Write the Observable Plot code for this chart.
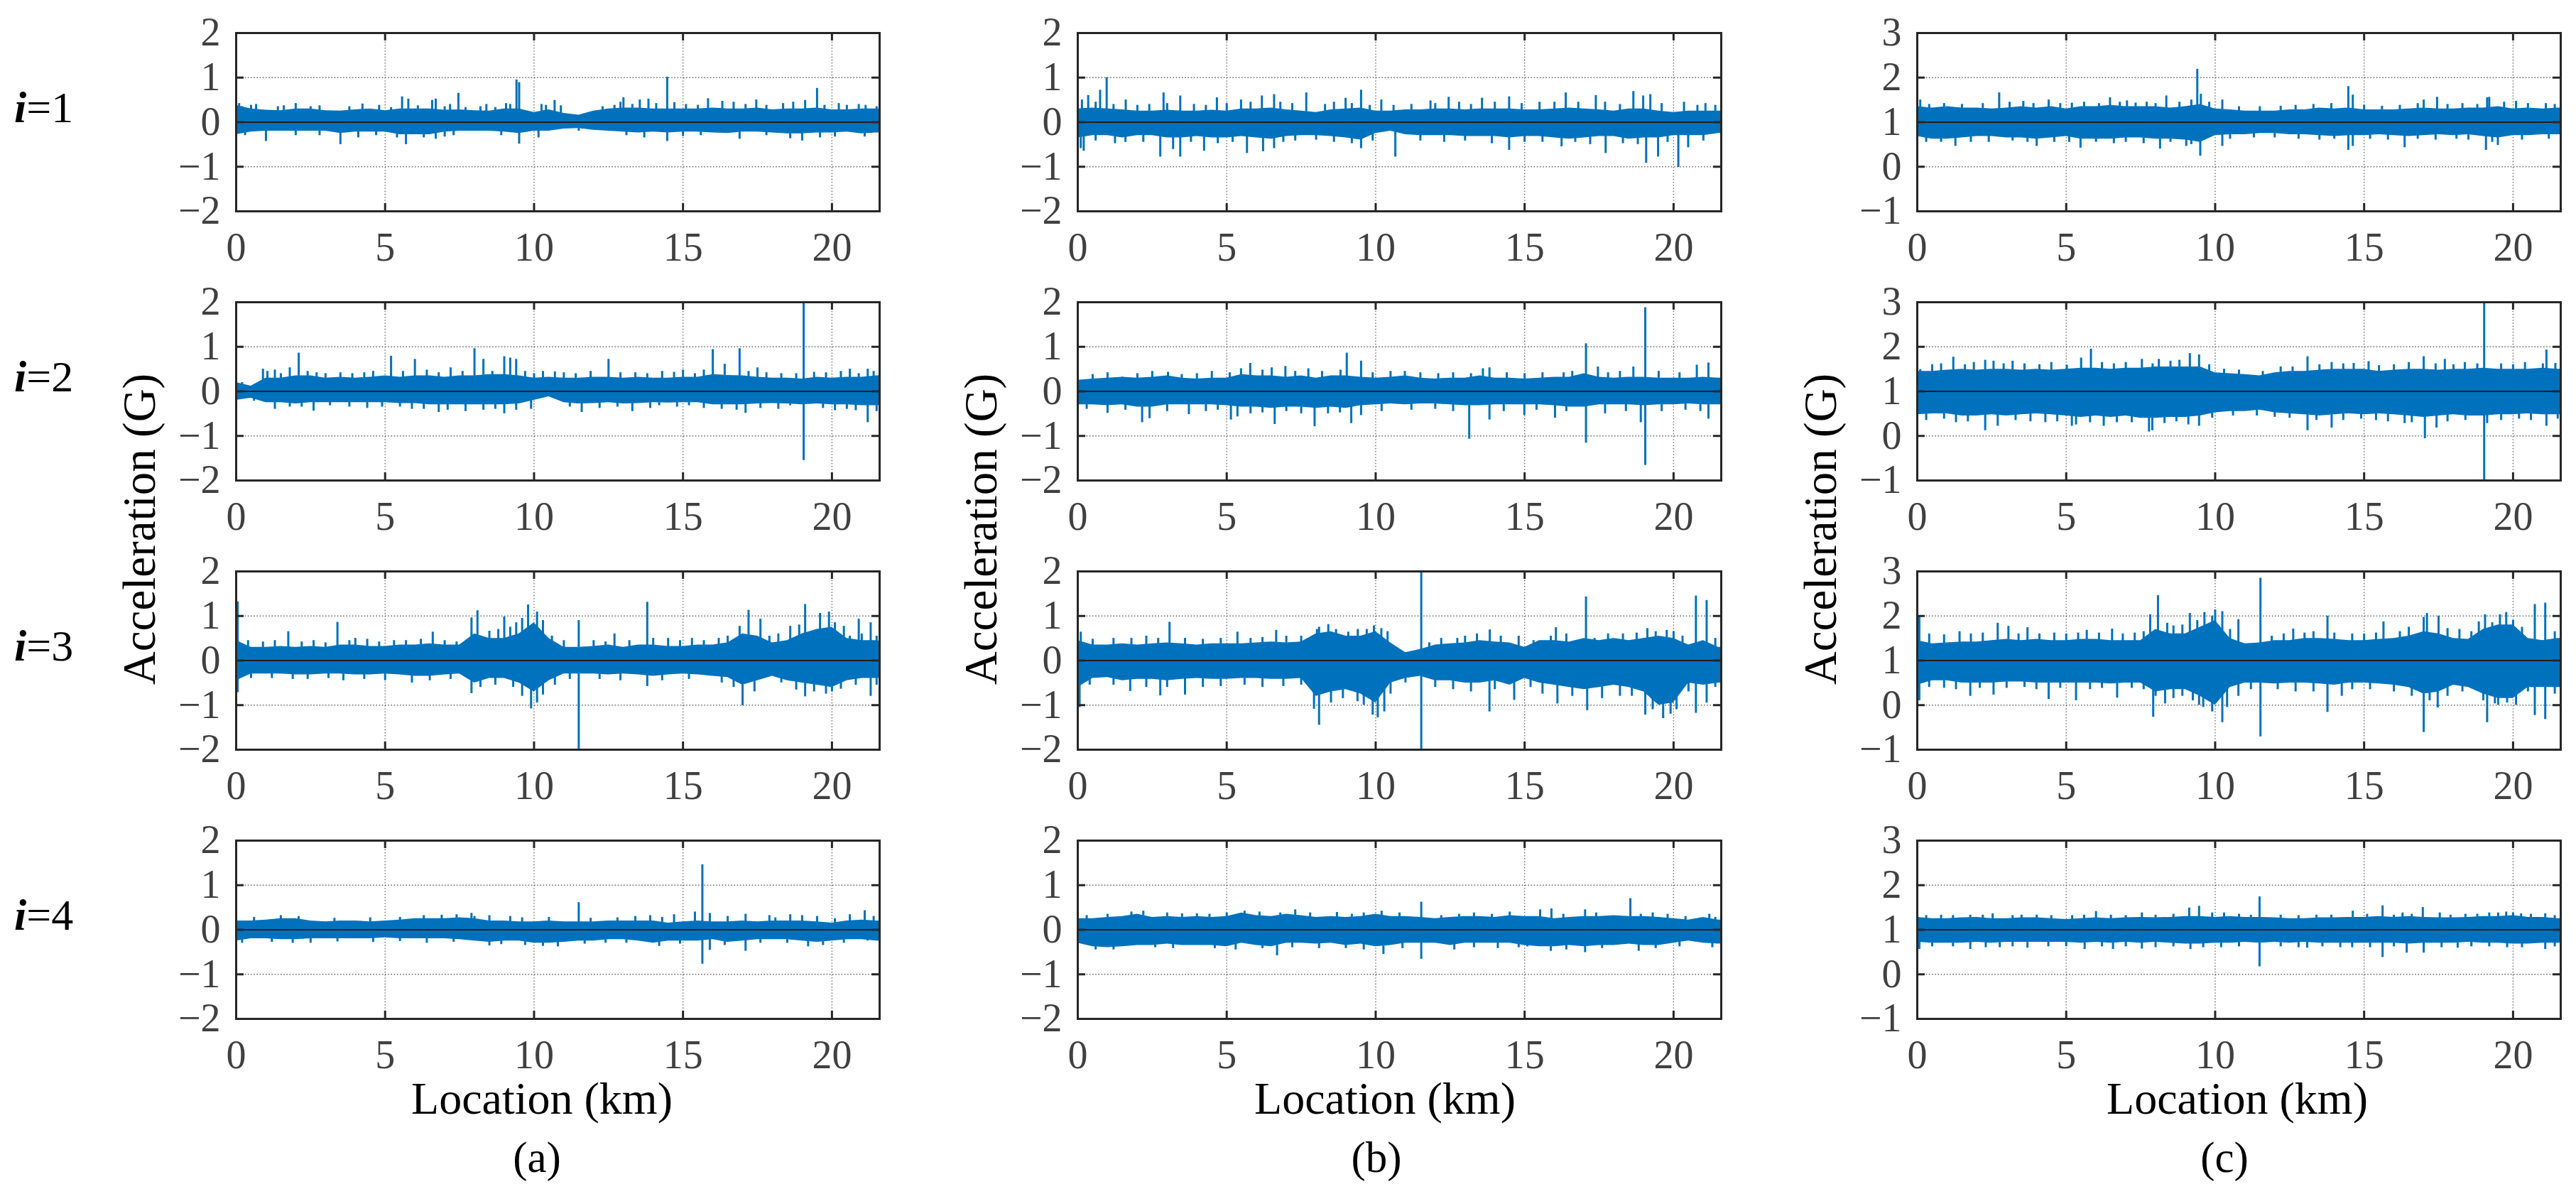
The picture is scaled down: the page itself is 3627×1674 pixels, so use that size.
<!DOCTYPE html>
<html><head><meta charset="utf-8">
<script src="https://cdn.jsdelivr.net/npm/d3@7"></script>
<script src="https://cdn.jsdelivr.net/npm/@observablehq/plot@0.6"></script>
<style>
html,body{margin:0;padding:0;background:#fff;}
#fig{position:relative;width:3627px;height:1674px;background:#fff;overflow:hidden;}
#fig svg{position:absolute;}
</style></head><body><div id="fig"></div>
<script>
// ---------------- data ----------------
// sample locations (km) of the dense-band envelope
const km = [0,0.5,1,1.5,2,2.5,3,3.5,4,4.5,5,5.5,6,6.5,7,7.5,8,8.5,9,9.5,10,10.5,11,11.5,12,12.5,13,13.5,14,14.5,15,15.5,16,16.5,17,17.5,18,18.5,19,19.5,20,20.5,21,21.5,22];
const xTicks = [0,5,10,15,20];
const yTicksAB = [-2,-1,0,1,2];
const yTicksC = [-1,0,1,2,3];
const columnNames = ["(a)","(b)","(c)"];
const rowNames = ["1","2","3","4"];
const xTitle = "Location (km)";
const yTitle = "Acceleration (G)";

// ---- column (a) ----
const a1Hi = [0.38,0.3,0.27,0.26,0.3,0.3,0.26,0.25,0.28,0.3,0.26,0.3,0.3,0.3,0.27,0.28,0.26,0.25,0.3,0.3,0.22,0.28,0.2,0.16,0.25,0.3,0.32,0.32,0.3,0.3,0.3,0.3,0.32,0.3,0.3,0.32,0.28,0.3,0.3,0.32,0.28,0.28,0.3,0.3,0.3];
const a1Lo = [-0.28,-0.22,-0.2,-0.2,-0.2,-0.2,-0.2,-0.25,-0.22,-0.22,-0.22,-0.28,-0.28,-0.28,-0.22,-0.2,-0.2,-0.2,-0.22,-0.25,-0.2,-0.2,-0.15,-0.14,-0.18,-0.2,-0.22,-0.24,-0.22,-0.24,-0.22,-0.22,-0.24,-0.25,-0.22,-0.22,-0.24,-0.26,-0.26,-0.24,-0.24,-0.22,-0.26,-0.24,-0.24];
const a1Spk = [[0.1,0.42],[0.67,0.4],[2.0,0.42],[4.24,0.41],[4.8,0.38],[5.57,0.57],[5.78,0.52],[6.58,0.49],[6.7,0.52],[7.18,0.4],[7.46,0.65],[8.4,0.4],[9.06,0.42],[9.41,0.95],[9.5,0.89],[10.25,0.4],[10.69,0.49],[12.9,0.45],[13.0,0.55],[13.55,0.5],[13.84,0.52],[14.47,1.01],[14.71,0.44],[15.84,0.53],[16.32,0.47],[17.46,0.5],[18.36,0.42],[19.1,0.49],[19.5,0.76],[20.23,0.42],[21.13,0.38],
  [1.0,-0.43],[3.5,-0.5],[4.1,-0.35],[5.7,-0.5],[6.7,-0.38],[7.0,-0.33],[9.5,-0.49],[10.15,-0.35],[13.7,-0.35],[14.47,-0.43],[16.9,-0.38],[18.6,-0.37],[19.0,-0.42],[21.1,-0.33]];
const a1Minor = [[0.2,0.35],[0.5,0.38],[1.4,0.35],[1.6,0.37],[2.5,0.35],[2.8,0.37],[3.8,0.35],[5.2,0.33],[6.1,0.37],[7.0,0.35],[7.7,0.33],[8.2,0.35],[8.7,0.33],[9.2,0.4],[10.4,0.38],[10.9,0.37],[12.3,0.35],[12.7,0.38],[13.3,0.4],[14.1,0.42],[15.1,0.4],[15.5,0.38],[16.7,0.45],[17.1,0.4],[17.8,0.38],[18.7,0.45],[19.75,0.38],[20.5,0.38],[20.9,0.4],[21.5,0.35],
  [0.3,-0.3],[2.0,-0.3],[2.8,-0.3],[4.7,-0.3],[5.4,-0.35],[6.3,-0.35],[7.3,-0.3],[8.9,-0.3],[11.5,-0.2],[13.1,-0.3],[15.0,-0.32],[15.6,-0.3],[17.8,-0.3],[19.6,-0.35],[20.1,-0.33]];

const a2Hi = [0.2,0.12,0.3,0.3,0.35,0.35,0.3,0.32,0.3,0.32,0.35,0.32,0.35,0.35,0.32,0.35,0.35,0.38,0.38,0.35,0.3,0.32,0.3,0.3,0.32,0.32,0.3,0.32,0.3,0.3,0.32,0.32,0.38,0.36,0.35,0.32,0.3,0.3,0.28,0.32,0.3,0.32,0.32,0.35,0.35];
const a2Lo = [-0.2,-0.15,-0.25,-0.25,-0.28,-0.25,-0.25,-0.25,-0.25,-0.25,-0.25,-0.27,-0.27,-0.3,-0.3,-0.3,-0.3,-0.3,-0.3,-0.28,-0.2,-0.12,-0.25,-0.28,-0.27,-0.25,-0.28,-0.27,-0.25,-0.26,-0.25,-0.25,-0.3,-0.3,-0.3,-0.28,-0.27,-0.28,-0.3,-0.28,-0.3,-0.3,-0.32,-0.32,-0.32];
const a2Spk = [[0.9,0.5],[1.05,0.45],[1.3,0.48],[1.8,0.53],[2.1,0.86],[2.4,0.45],[5.2,0.79],[6.0,0.72],[7.2,0.53],[8.0,0.96],[8.3,0.72],[9.0,0.78],[9.2,0.75],[9.4,0.72],[10.3,0.45],[10.7,0.44],[12.5,0.72],[15.0,0.48],[16.0,0.94],[16.4,0.61],[16.9,0.96],[17.5,0.53],[19.05,2.0],[19.4,0.43],[20.6,0.5],[21.2,0.5],
  [1.3,-0.4],[2.6,-0.44],[3.15,-0.32],[5.5,-0.35],[6.3,-0.4],[6.8,-0.47],[7.7,-0.45],[9.0,-0.5],[9.9,-0.4],[11.6,-0.47],[13.3,-0.45],[14.2,-0.32],[15.2,-0.32],[17.1,-0.49],[18.6,-0.32],[19.05,-1.55],[20.1,-0.43],[20.8,-0.43],[21.2,-0.7]];
const a2Minor = [[0.2,0.2],[1.5,0.4],[2.7,0.42],[3.0,0.4],[3.5,0.42],[3.9,0.4],[4.3,0.42],[4.6,0.45],[5.6,0.45],[6.4,0.48],[6.8,0.42],[7.6,0.45],[8.6,0.45],[9.7,0.45],[10.0,0.4],[11.0,0.42],[11.4,0.4],[11.9,0.45],[12.9,0.42],[13.4,0.42],[13.8,0.4],[14.3,0.45],[14.7,0.43],[15.4,0.4],[15.7,0.48],[17.2,0.45],[17.8,0.42],[18.3,0.4],[18.8,0.4],[19.8,0.42],[20.3,0.45],[20.9,0.4],[21.4,0.45],
  [0.6,-0.22],[1.8,-0.35],[2.2,-0.35],[3.8,-0.35],[4.4,-0.38],[4.9,-0.35],[5.9,-0.4],[7.1,-0.42],[8.3,-0.42],[8.7,-0.4],[9.4,-0.42],[11.2,-0.35],[12.2,-0.38],[12.8,-0.35],[13.9,-0.38],[14.8,-0.35],[15.7,-0.38],[16.3,-0.4],[16.8,-0.42],[17.6,-0.38],[18.2,-0.4],[19.7,-0.38],[20.5,-0.4],[21.5,-0.45]];

const a3Hi = [0.45,0.3,0.3,0.32,0.3,0.32,0.3,0.35,0.35,0.32,0.32,0.35,0.35,0.38,0.35,0.35,0.6,0.5,0.5,0.6,0.85,0.5,0.3,0.3,0.32,0.35,0.3,0.35,0.35,0.32,0.32,0.35,0.35,0.4,0.6,0.55,0.4,0.45,0.6,0.7,0.75,0.5,0.45,0.45,0.4];
const a3Lo = [-0.45,-0.3,-0.3,-0.3,-0.32,-0.32,-0.3,-0.3,-0.32,-0.32,-0.3,-0.32,-0.35,-0.35,-0.32,-0.3,-0.5,-0.4,-0.4,-0.5,-0.7,-0.45,-0.3,-0.3,-0.3,-0.32,-0.3,-0.32,-0.35,-0.32,-0.3,-0.32,-0.35,-0.38,-0.55,-0.45,-0.35,-0.45,-0.5,-0.55,-0.6,-0.45,-0.4,-0.4,-0.38];
const a3Spk = [[0.05,1.32],[1.75,0.65],[3.4,0.86],[4.0,0.5],[6.6,0.64],[7.9,0.96],[8.1,1.12],[8.5,0.66],[9.0,0.98],[9.4,0.85],[9.8,1.25],[10.1,1.09],[10.3,0.9],[11.5,0.9],[12.7,0.6],[13.8,1.31],[14.5,0.5],[16.9,0.77],[17.2,1.13],[17.6,0.93],[18.6,0.77],[19.1,1.26],[19.6,1.06],[19.9,1.09],[20.4,0.77],[20.9,0.93],[21.3,0.85],
  [0.05,-0.72],[7.9,-0.74],[9.9,-1.08],[10.3,-0.77],[11.5,-2.0],[13.8,-0.58],[17.0,-1.01],[18.8,-0.66],[19.1,-0.81],[19.6,-0.53],[20.3,-0.64],[21.3,-0.8]];
const a3Minor = [[0.4,0.45],[0.9,0.42],[1.3,0.45],[2.2,0.42],[2.6,0.45],[3.0,0.4],[3.8,0.45],[4.4,0.48],[4.8,0.42],[5.3,0.45],[5.7,0.45],[6.2,0.48],[7.0,0.45],[7.4,0.42],[8.8,0.7],[9.2,0.75],[9.6,0.95],[10.6,0.55],[11.0,0.45],[12.0,0.45],[12.4,0.42],[13.2,0.45],[14.0,0.5],[14.9,0.45],[15.3,0.5],[15.7,0.45],[16.2,0.5],[16.5,0.55],[17.9,0.55],[18.2,0.6],[18.9,0.8],[20.1,0.85],[20.6,0.55],[21.0,0.6],[21.5,0.55],
  [0.5,-0.4],[1.2,-0.4],[1.9,-0.42],[2.4,-0.42],[3.1,-0.4],[3.6,-0.45],[4.3,-0.42],[5.0,-0.45],[5.9,-0.5],[6.5,-0.45],[7.2,-0.42],[8.2,-0.6],[8.7,-0.55],[9.3,-0.6],[9.6,-0.8],[10.1,-0.95],[10.7,-0.55],[11.2,-0.42],[12.2,-0.42],[12.9,-0.45],[14.3,-0.45],[15.2,-0.42],[16.3,-0.5],[16.7,-0.6],[17.4,-0.7],[18.3,-0.5],[19.4,-0.7],[19.8,-0.75],[20.0,-0.7],[20.8,-0.55],[21.5,-0.55]];

const a4Hi = [0.2,0.2,0.22,0.25,0.25,0.2,0.18,0.2,0.2,0.18,0.2,0.22,0.25,0.25,0.25,0.27,0.25,0.2,0.2,0.18,0.18,0.2,0.18,0.18,0.18,0.2,0.2,0.2,0.2,0.15,0.18,0.2,0.18,0.18,0.2,0.18,0.2,0.2,0.2,0.18,0.15,0.2,0.22,0.2,0.2];
const a4Lo = [-0.25,-0.2,-0.2,-0.22,-0.22,-0.2,-0.2,-0.2,-0.2,-0.2,-0.18,-0.2,-0.2,-0.2,-0.2,-0.22,-0.25,-0.28,-0.25,-0.25,-0.3,-0.3,-0.28,-0.25,-0.25,-0.22,-0.22,-0.25,-0.3,-0.25,-0.25,-0.25,-0.22,-0.28,-0.25,-0.22,-0.22,-0.22,-0.25,-0.28,-0.25,-0.22,-0.22,-0.25,-0.25];
const a4Spk = [[7.9,0.37],[8.5,0.32],[9.2,0.3],[11.5,0.61],[13.9,0.32],[14.7,0.34],[15.4,0.4],[15.65,1.46],[15.9,0.37],[17.1,0.35],[17.9,0.32],[18.6,0.34],[19.0,0.32],[20.6,0.34],[21.1,0.43],
  [1.9,-0.3],[8.5,-0.36],[10.3,-0.37],[14.2,-0.37],[15.65,-0.77],[15.9,-0.46],[17.1,-0.48],[19.2,-0.38],[21.2,-0.25]];
const a4Minor = [[0.6,0.28],[1.5,0.32],[2.1,0.3],[3.3,0.26],[4.5,0.27],[5.5,0.28],[6.3,0.32],[6.9,0.33],[7.4,0.34],[8.0,0.3],[9.6,0.27],[10.5,0.28],[11.9,0.26],[12.8,0.27],[13.4,0.3],[14.3,0.28],[16.5,0.3],[18.1,0.27],[19.5,0.3],[20.1,0.25],[21.4,0.3],
  [0.2,-0.3],[1.2,-0.28],[2.5,-0.3],[3.4,-0.27],[4.6,-0.28],[5.5,-0.26],[6.4,-0.3],[7.3,-0.28],[8.9,-0.33],[9.7,-0.35],[10.8,-0.38],[11.7,-0.32],[12.4,-0.3],[13.1,-0.3],[14.9,-0.32],[16.4,-0.35],[17.6,-0.3],[18.5,-0.3],[19.7,-0.35],[20.4,-0.3]];

// ---- column (b) ----
const b1Hi = [0.3,0.32,0.3,0.28,0.25,0.25,0.27,0.25,0.25,0.27,0.25,0.3,0.3,0.32,0.28,0.25,0.22,0.28,0.3,0.32,0.25,0.25,0.28,0.28,0.3,0.3,0.28,0.3,0.3,0.3,0.28,0.28,0.3,0.32,0.3,0.28,0.25,0.3,0.3,0.25,0.22,0.25,0.25,0.25,0.25];
const b1Lo = [-0.35,-0.3,-0.3,-0.35,-0.3,-0.3,-0.35,-0.35,-0.32,-0.35,-0.35,-0.32,-0.35,-0.38,-0.32,-0.3,-0.3,-0.32,-0.35,-0.4,-0.25,-0.2,-0.28,-0.3,-0.3,-0.3,-0.32,-0.32,-0.32,-0.35,-0.32,-0.32,-0.35,-0.38,-0.35,-0.32,-0.32,-0.38,-0.35,-0.35,-0.3,-0.3,-0.3,-0.25,-0.25];
const b1Spk = [[0.14,0.5],[0.35,0.6],[0.75,0.72],[0.97,1.0],[1.61,0.5],[2.88,0.66],[3.44,0.59],[4.67,0.55],[5.48,0.5],[6.18,0.59],[6.59,0.62],[7.67,0.66],[8.99,0.54],[9.51,0.72],[10.19,0.5],[11.84,0.48],[12.45,0.56],[13.57,0.54],[14.48,0.57],[16.38,0.66],[17.39,0.6],[18.65,0.69],[18.98,0.59],[19.22,0.62],[20.35,0.45],[21.07,0.42],
  [0.1,-0.59],[0.2,-0.65],[1.25,-0.48],[2.77,-0.78],[3.2,-0.61],[3.44,-0.78],[4.24,-0.65],[5.68,-0.7],[6.22,-0.66],[6.59,-0.59],[9.51,-0.59],[10.66,-0.78],[14.48,-0.63],[16.24,-0.55],[17.72,-0.7],[19.08,-0.92],[19.48,-0.78],[20.16,-1.01],[20.49,-0.57]];
const b1Minor = [[0.6,0.45],[1.2,0.4],[2.0,0.38],[2.4,0.4],[3.0,0.42],[3.9,0.4],[4.3,0.38],[5.0,0.42],[5.8,0.45],[6.8,0.45],[7.2,0.42],[8.3,0.4],[8.6,0.45],[9.2,0.42],[9.8,0.38],[10.6,0.38],[11.2,0.4],[12.0,0.42],[12.8,0.45],[13.2,0.4],[14.0,0.45],[14.9,0.42],[15.5,0.45],[16.0,0.45],[16.8,0.45],[17.7,0.45],[18.2,0.4],[19.6,0.42],[20.8,0.38],[21.4,0.38],
  [0.6,-0.42],[1.6,-0.45],[2.2,-0.45],[3.8,-0.45],[4.7,-0.48],[5.2,-0.45],[6.9,-0.45],[7.3,-0.42],[8.0,-0.4],[8.6,-0.45],[9.2,-0.48],[9.9,-0.42],[11.5,-0.42],[12.3,-0.45],[13.0,-0.42],[13.9,-0.48],[15.0,-0.45],[15.6,-0.45],[16.7,-0.45],[17.2,-0.5],[18.3,-0.48],[18.8,-0.5],[19.8,-0.45],[21.0,-0.42]];

const b2Hi = [0.25,0.28,0.3,0.32,0.3,0.32,0.35,0.3,0.28,0.3,0.3,0.38,0.35,0.35,0.32,0.35,0.3,0.35,0.35,0.32,0.3,0.32,0.35,0.3,0.28,0.3,0.3,0.35,0.3,0.3,0.28,0.3,0.32,0.32,0.4,0.32,0.3,0.32,0.32,0.3,0.3,0.3,0.32,0.3,0.3];
const b2Lo = [-0.3,-0.3,-0.32,-0.3,-0.35,-0.35,-0.3,-0.3,-0.3,-0.3,-0.32,-0.35,-0.35,-0.38,-0.35,-0.35,-0.38,-0.35,-0.38,-0.32,-0.3,-0.28,-0.3,-0.28,-0.28,-0.3,-0.32,-0.32,-0.3,-0.3,-0.3,-0.3,-0.32,-0.35,-0.35,-0.3,-0.3,-0.3,-0.32,-0.3,-0.3,-0.28,-0.3,-0.3,-0.3];
const b2Spk = [[1.5,0.32],[3.03,0.43],[3.49,0.38],[5.48,0.51],[5.79,0.63],[6.51,0.53],[6.97,0.56],[7.74,0.51],[8.82,0.48],[9.03,0.86],[9.51,0.68],[10.98,0.45],[13.6,0.51],[13.82,0.53],[16.31,0.42],[17.06,1.07],[17.46,0.55],[18.65,0.55],[19.05,1.88],[20.78,0.59],[21.17,0.64],
  [1.0,-0.49],[2.16,-0.7],[2.41,-0.61],[3.73,-0.52],[5.14,-0.64],[5.36,-0.57],[6.61,-0.74],[7.95,-0.79],[9.18,-0.72],[9.51,-0.54],[13.14,-1.07],[13.82,-0.64],[14.99,-0.54],[16.02,-0.6],[17.06,-1.16],[18.9,-0.7],[19.05,-1.66],[21.17,-0.62]];
const b2Minor = [[0.5,0.38],[1.0,0.42],[2.0,0.4],[2.5,0.45],[4.0,0.4],[4.5,0.45],[5.1,0.42],[6.2,0.48],[7.3,0.45],[8.2,0.45],[9.9,0.42],[10.5,0.45],[11.5,0.42],[12.1,0.4],[12.6,0.42],[13.2,0.4],[14.4,0.42],[15.0,0.4],[15.6,0.42],[16.6,0.45],[17.8,0.42],[18.2,0.45],[19.5,0.45],[20.2,0.42],
  [0.3,-0.4],[1.6,-0.42],[3.0,-0.45],[4.3,-0.45],[4.7,-0.42],[5.8,-0.5],[6.2,-0.48],[7.0,-0.45],[7.5,-0.5],[8.4,-0.5],[8.8,-0.48],[10.2,-0.45],[11.2,-0.42],[12.0,-0.4],[12.6,-0.45],[14.3,-0.45],[15.4,-0.42],[16.4,-0.45],[17.7,-0.5],[18.4,-0.45],[19.6,-0.45],[20.4,-0.42],[20.9,-0.45]];

const b3Hi = [0.45,0.35,0.35,0.38,0.35,0.38,0.4,0.38,0.35,0.38,0.38,0.38,0.4,0.42,0.4,0.42,0.6,0.65,0.55,0.55,0.65,0.4,0.18,0.25,0.35,0.38,0.4,0.45,0.42,0.4,0.3,0.45,0.45,0.42,0.5,0.45,0.5,0.45,0.5,0.55,0.5,0.35,0.45,0.3,0.3];
const b3Lo = [-0.6,-0.4,-0.38,-0.45,-0.42,-0.42,-0.45,-0.42,-0.4,-0.42,-0.42,-0.4,-0.4,-0.42,-0.42,-0.4,-0.8,-0.7,-0.65,-0.75,-0.95,-0.5,-0.4,-0.35,-0.45,-0.45,-0.5,-0.5,-0.45,-0.55,-0.4,-0.5,-0.55,-0.6,-0.65,-0.6,-0.55,-0.6,-0.7,-1.0,-0.95,-0.5,-0.55,-0.5,-0.5];
const b3Spk = [[0.1,0.64],[3.08,0.86],[5.36,0.64],[6.66,0.68],[8.03,0.7],[8.41,0.81],[8.67,0.7],[9.08,0.64],[9.94,0.78],[10.19,0.72],[11.53,2.0],[12.74,0.5],[13.83,0.69],[15.88,0.55],[16.05,0.74],[17.06,1.43],[17.35,0.5],[18.76,0.62],[19.12,0.72],[19.77,0.68],[20.75,1.45],[21.11,1.35],
  [0.06,-1.05],[1.76,-0.69],[2.77,-0.79],[3.6,-0.77],[7.93,-1.09],[8.1,-1.45],[9.39,-0.92],[9.9,-1.22],[10.07,-1.28],[10.29,-1.15],[11.53,-2.0],[13.82,-1.15],[14.65,-0.89],[16.1,-0.97],[17.1,-1.12],[19.05,-1.22],[19.65,-1.3],[20.75,-1.18],[21.11,-0.95]];
const b3Minor = [[0.5,0.48],[1.2,0.5],[1.8,0.5],[2.3,0.55],[2.7,0.5],[3.6,0.5],[4.2,0.48],[4.8,0.5],[5.8,0.5],[6.2,0.52],[7.0,0.55],[7.5,0.55],[8.1,0.75],[9.4,0.7],[9.7,0.7],[10.4,0.65],[11.8,0.4],[12.2,0.5],[13.0,0.55],[13.4,0.6],[14.2,0.55],[14.8,0.55],[15.3,0.45],[16.4,0.6],[17.8,0.6],[18.3,0.6],[19.4,0.65],[20.0,0.65],[20.3,0.55],[21.4,0.5],
  [0.4,-0.55],[1.2,-0.55],[2.3,-0.6],[3.0,-0.6],[4.2,-0.6],[4.8,-0.58],[5.6,-0.55],[6.2,-0.6],[6.9,-0.58],[7.5,-0.55],[8.5,-0.95],[8.9,-0.85],[9.6,-1.0],[10.5,-0.75],[11.0,-0.5],[12.0,-0.6],[12.6,-0.65],[13.2,-0.7],[14.0,-0.65],[15.2,-0.6],[15.6,-0.75],[16.6,-0.8],[17.6,-0.85],[18.2,-0.8],[18.6,-0.8],[19.3,-1.1],[19.9,-1.2],[20.1,-1.1],[20.5,-0.7],[21.4,-0.6]];

const b4Hi = [0.25,0.25,0.28,0.3,0.35,0.28,0.3,0.28,0.3,0.28,0.3,0.38,0.32,0.3,0.35,0.32,0.28,0.3,0.28,0.3,0.35,0.3,0.3,0.28,0.25,0.28,0.3,0.3,0.28,0.32,0.3,0.3,0.25,0.28,0.3,0.3,0.32,0.3,0.3,0.28,0.25,0.22,0.28,0.22,0.22];
const b4Lo = [-0.3,-0.38,-0.4,-0.38,-0.35,-0.35,-0.32,-0.35,-0.35,-0.35,-0.38,-0.3,-0.35,-0.38,-0.3,-0.3,-0.32,-0.3,-0.35,-0.32,-0.38,-0.35,-0.3,-0.3,-0.3,-0.35,-0.3,-0.3,-0.3,-0.3,-0.35,-0.38,-0.38,-0.35,-0.38,-0.35,-0.35,-0.32,-0.35,-0.35,-0.3,-0.25,-0.3,-0.32,-0.3];
const b4Spk = [[4.42,0.35],[8.7,0.39],[11.53,0.62],[15.52,0.45],[15.9,0.47],[17.03,0.45],[18.55,0.7],[18.9,0.35],[21.2,0.35],
  [6.69,-0.58],[10.26,-0.55],[11.53,-0.66],[12.64,-0.45],[15.09,-0.38],[15.88,-0.48],[17.03,-0.51],[18.83,-0.48]];
const b4Minor = [[0.3,0.32],[1.0,0.35],[1.8,0.4],[2.2,0.42],[3.0,0.38],[3.5,0.36],[4.0,0.36],[5.0,0.38],[5.6,0.42],[6.1,0.4],[6.8,0.38],[7.3,0.45],[7.8,0.38],[9.2,0.35],[9.6,0.38],[10.2,0.42],[10.8,0.38],[12.2,0.32],[12.8,0.35],[13.3,0.38],[13.9,0.35],[14.5,0.4],[16.3,0.35],[17.4,0.38],[19.3,0.38],[19.8,0.35],[20.4,0.3],[21.4,0.28],
  [0.6,-0.45],[1.2,-0.45],[2.6,-0.4],[3.2,-0.42],[4.6,-0.42],[5.3,-0.45],[6.2,-0.42],[7.2,-0.4],[8.1,-0.42],[9.0,-0.42],[9.6,-0.45],[10.9,-0.42],[13.3,-0.4],[14.1,-0.42],[14.8,-0.4],[16.4,-0.45],[17.6,-0.42],[19.4,-0.42],[20.2,-0.38],[21.3,-0.4]];

// ---- column (c) ----
const c1Hi = [1.35,1.32,1.35,1.32,1.32,1.3,1.32,1.35,1.32,1.35,1.3,1.35,1.35,1.38,1.35,1.35,1.35,1.32,1.35,1.4,1.3,1.28,1.25,1.25,1.25,1.28,1.28,1.32,1.3,1.32,1.28,1.28,1.28,1.3,1.32,1.3,1.3,1.32,1.32,1.35,1.3,1.32,1.3,1.32,1.32];
const c1Lo = [0.68,0.62,0.62,0.65,0.68,0.68,0.65,0.65,0.62,0.65,0.68,0.62,0.62,0.62,0.65,0.65,0.62,0.62,0.6,0.55,0.7,0.72,0.72,0.75,0.75,0.72,0.72,0.7,0.68,0.7,0.7,0.72,0.7,0.68,0.7,0.72,0.7,0.72,0.68,0.65,0.7,0.7,0.72,0.72,0.72];
const c1Spk = [[0.1,1.5],[2.75,1.66],[3.56,1.47],[4.41,1.5],[5.19,1.43],[6.47,1.55],[7.04,1.48],[7.33,1.43],[8.36,1.59],[9.2,1.5],[9.4,2.19],[9.52,1.63],[10.24,1.5],[14.47,1.8],[14.62,1.61],[17.0,1.5],[17.45,1.56],[19.13,1.55],[19.2,1.56],[20.1,1.47],[21.1,1.42],
  [1.28,0.46],[4.01,0.46],[5.48,0.42],[8.15,0.4],[9.03,0.46],[9.5,0.24],[10.24,0.46],[14.47,0.37],[14.62,0.46],[16.36,0.43],[19.09,0.37],[19.49,0.48]];
const c1Minor = [[0.4,1.4],[0.9,1.42],[1.5,1.4],[2.2,1.42],[3.1,1.45],[3.9,1.42],[4.8,1.42],[5.6,1.45],[6.1,1.42],[6.8,1.45],[7.7,1.45],[8.0,1.42],[8.8,1.45],[9.8,1.45],[10.8,1.35],[11.5,1.35],[12.2,1.36],[12.7,1.38],[13.3,1.4],[13.9,1.42],[15.0,1.38],[15.6,1.36],[16.2,1.38],[16.8,1.42],[17.8,1.4],[18.3,1.42],[18.8,1.4],[19.7,1.45],[20.5,1.42],[21.4,1.4],
  [0.3,0.55],[0.8,0.55],[1.8,0.55],[2.4,0.55],[3.2,0.58],[3.7,0.55],[4.6,0.55],[5.1,0.55],[6.0,0.55],[6.6,0.52],[7.0,0.55],[7.6,0.52],[8.5,0.55],[9.2,0.5],[10.5,0.62],[11.3,0.65],[12.0,0.65],[12.8,0.62],[13.5,0.6],[14.0,0.62],[15.2,0.62],[15.8,0.6],[16.8,0.62],[17.4,0.6],[18.1,0.62],[18.5,0.6],[19.3,0.55],[20.3,0.6],[21.2,0.62]];

const c2Hi = [1.45,1.45,1.48,1.5,1.48,1.5,1.5,1.48,1.5,1.48,1.5,1.52,1.52,1.5,1.52,1.52,1.55,1.55,1.55,1.55,1.42,1.4,1.38,1.35,1.42,1.45,1.45,1.48,1.5,1.5,1.5,1.45,1.48,1.5,1.5,1.48,1.5,1.5,1.52,1.5,1.5,1.5,1.52,1.5,1.5];
const c2Lo = [0.48,0.5,0.5,0.45,0.45,0.48,0.45,0.48,0.5,0.48,0.45,0.42,0.45,0.42,0.45,0.4,0.4,0.42,0.42,0.45,0.52,0.55,0.55,0.58,0.52,0.5,0.48,0.45,0.48,0.5,0.48,0.5,0.48,0.45,0.42,0.45,0.48,0.45,0.45,0.48,0.48,0.5,0.48,0.48,0.48];
const c2Spk = [[0.1,1.49],[1.21,1.77],[2.28,1.7],[2.56,1.68],[3.2,1.68],[5.02,1.59],[5.5,1.75],[5.83,1.95],[7.54,1.72],[8.11,1.72],[9.15,1.85],[9.46,1.82],[13.1,1.78],[13.91,1.65],[14.65,1.63],[15.15,1.67],[17.0,1.78],[17.71,1.72],[18.38,1.65],[19.03,3.0],[21.12,1.93],[21.42,1.63],
  [2.28,0.12],[2.7,0.22],[5.19,0.22],[5.33,0.25],[6.26,0.22],[7.78,0.09],[7.89,0.12],[9.1,0.25],[9.46,0.22],[13.1,0.12],[13.91,0.18],[16.36,0.28],[17.04,-0.06],[17.43,0.18],[19.03,-1.0],[19.13,0.28],[21.12,0.22]];
const c2Minor = [[0.5,1.6],[0.8,1.62],[1.6,1.6],[1.9,1.65],[2.9,1.62],[3.6,1.62],[4.1,1.6],[4.5,1.65],[6.2,1.65],[6.6,1.62],[7.0,1.65],[7.9,1.62],[8.5,1.68],[8.8,1.7],[9.8,1.6],[10.3,1.5],[10.8,1.48],[11.6,1.45],[12.2,1.55],[12.6,1.55],[13.5,1.6],[14.3,1.62],[15.5,1.58],[16.0,1.6],[16.5,1.65],[17.4,1.62],[18.0,1.6],[18.8,1.62],[19.6,1.62],[20.0,1.6],[20.4,1.65],[21.0,1.62],
  [0.3,0.35],[0.9,0.38],[1.3,0.3],[1.7,0.32],[3.3,0.35],[3.8,0.32],[4.3,0.3],[4.7,0.32],[5.8,0.3],[6.7,0.3],[7.2,0.3],[8.3,0.28],[8.7,0.32],[9.9,0.4],[10.6,0.45],[11.4,0.45],[12.0,0.42],[12.5,0.4],[13.4,0.35],[14.3,0.35],[14.9,0.38],[15.4,0.35],[15.8,0.32],[16.6,0.3],[17.8,0.32],[18.4,0.35],[19.6,0.35],[20.2,0.38],[20.6,0.35],[21.5,0.38]];

const c3Hi = [1.45,1.38,1.4,1.42,1.42,1.45,1.48,1.45,1.48,1.45,1.45,1.48,1.48,1.45,1.45,1.45,1.7,1.6,1.6,1.75,1.9,1.5,1.38,1.4,1.45,1.45,1.5,1.5,1.48,1.45,1.45,1.48,1.5,1.55,1.65,1.6,1.5,1.48,1.7,1.8,1.8,1.5,1.45,1.5,1.5];
const c3Lo = [0.45,0.55,0.55,0.5,0.5,0.5,0.52,0.52,0.5,0.5,0.5,0.5,0.5,0.48,0.5,0.5,0.3,0.35,0.35,0.2,0.0,0.4,0.5,0.5,0.48,0.5,0.5,0.48,0.45,0.5,0.5,0.48,0.45,0.4,0.25,0.3,0.45,0.4,0.25,0.15,0.15,0.4,0.4,0.4,0.4];
const c3Spk = [[0.07,2.0],[1.42,1.65],[2.7,1.84],[3.06,1.77],[3.7,1.74],[5.69,1.68],[6.54,1.71],[7.82,2.03],[8.08,2.46],[8.39,1.84],[9.15,2.06],[9.64,2.08],[10.0,2.14],[10.24,2.1],[10.78,1.92],[11.52,2.85],[12.62,1.71],[13.77,2.0],[15.65,1.87],[17.0,1.97],[17.11,2.06],[17.5,2.0],[18.85,1.87],[19.06,2.03],[19.56,2.03],[19.77,2.08],[20.73,2.26],[21.08,2.29],
  [0.07,0.1],[1.78,0.2],[2.56,0.23],[4.41,0.13],[5.33,0.1],[6.71,0.16],[7.92,-0.27],[8.32,0.03],[9.25,0.1],[9.46,0.0],[10.24,-0.39],[10.78,0.2],[11.52,-0.71],[13.77,-0.16],[14.25,0.2],[17.0,-0.61],[17.47,-0.06],[19.13,-0.39],[19.39,0.03],[20.73,-0.23],[21.08,-0.32]];
const c3Minor = [[0.4,1.6],[0.9,1.58],[1.8,1.6],[2.2,1.62],[3.4,1.6],[4.1,1.6],[4.6,1.62],[5.0,1.6],[5.4,1.62],[6.1,1.62],[6.9,1.6],[7.3,1.62],[7.6,1.65],[8.6,1.78],[8.9,1.8],[9.4,1.9],[9.9,2.0],[10.5,1.7],[11.9,1.55],[12.3,1.6],[13.0,1.62],[13.3,1.65],[14.0,1.62],[14.6,1.6],[15.0,1.6],[15.4,1.62],[16.2,1.65],[16.5,1.75],[17.8,1.72],[18.2,1.7],[18.6,1.65],[19.3,1.85],[20.0,1.9],[20.3,1.75],[21.4,1.65],
  [0.4,0.4],[0.9,0.38],[1.3,0.35],[2.1,0.38],[3.0,0.38],[3.6,0.4],[4.0,0.35],[4.8,0.38],[5.8,0.35],[6.2,0.38],[7.2,0.38],[7.6,0.35],[8.0,0.2],[8.6,0.15],[8.9,0.2],[9.6,-0.05],[9.9,-0.15],[10.4,-0.05],[11.2,0.35],[12.1,0.35],[12.7,0.3],[13.3,0.3],[14.6,0.35],[15.2,0.35],[16.0,0.3],[16.6,0.2],[17.2,0.1],[17.8,0.2],[18.3,0.3],[19.0,0.1],[19.5,0.0],[19.8,0.05],[20.1,0.0],[20.5,0.3],[21.4,0.25]];

const c4Hi = [1.28,1.25,1.25,1.27,1.28,1.25,1.25,1.27,1.27,1.25,1.23,1.25,1.27,1.25,1.27,1.28,1.27,1.28,1.3,1.3,1.28,1.3,1.28,1.28,1.27,1.25,1.25,1.27,1.27,1.28,1.28,1.3,1.28,1.3,1.28,1.27,1.27,1.28,1.3,1.3,1.32,1.28,1.28,1.25,1.25];
const c4Lo = [0.72,0.7,0.7,0.7,0.72,0.7,0.72,0.72,0.72,0.72,0.72,0.7,0.72,0.7,0.72,0.7,0.72,0.7,0.68,0.68,0.7,0.7,0.72,0.7,0.72,0.7,0.72,0.7,0.7,0.7,0.7,0.7,0.7,0.68,0.7,0.7,0.7,0.72,0.7,0.7,0.68,0.68,0.7,0.7,0.7];
const c4Spk = [[1.78,1.33],[2.53,1.36],[4.01,1.33],[6.0,1.41],[7.54,1.38],[9.13,1.49],[9.46,1.53],[11.49,1.74],[14.62,1.42],[15.62,1.54],[16.29,1.38],[16.97,1.5],[17.54,1.38],[19.2,1.38],[19.77,1.4],[20.27,1.36],[21.08,1.36],
  [0.07,0.56],[1.78,0.56],[2.77,0.6],[3.7,0.59],[5.62,0.56],[6.57,0.56],[7.54,0.57],[9.17,0.56],[11.49,0.17],[13.09,0.59],[15.62,0.38],[16.43,0.48],[17.0,0.48],[18.14,0.59],[21.08,0.56]];
const c4Minor = [[0.3,1.32],[0.8,1.33],[1.2,1.32],[2.2,1.33],[3.2,1.32],[3.5,1.33],[4.5,1.32],[5.2,1.32],[5.6,1.33],[6.5,1.33],[7.0,1.32],[8.0,1.33],[8.6,1.35],[9.9,1.38],[10.3,1.38],[10.8,1.35],[11.2,1.33],[12.2,1.33],[12.8,1.32],[13.4,1.33],[13.9,1.33],[15.1,1.35],[16.0,1.33],[16.6,1.35],[17.9,1.33],[18.4,1.35],[18.8,1.35],[19.5,1.38],[20.0,1.38],[20.6,1.35],[21.4,1.32],
  [0.5,0.62],[1.2,0.62],[2.3,0.6],[3.2,0.62],[4.4,0.62],[5.0,0.62],[6.2,0.62],[7.0,0.62],[8.0,0.6],[8.6,0.62],[9.6,0.6],[10.2,0.6],[10.8,0.62],[12.2,0.62],[12.8,0.6],[13.6,0.62],[14.2,0.6],[14.6,0.6],[15.2,0.6],[16.0,0.62],[17.6,0.6],[18.6,0.62],[19.2,0.62],[19.8,0.6],[20.3,0.6],[21.4,0.62]];

// ---------------- layout ----------------
const BLUE = "#0072BD", AX = "#262626", TXT = "#404040";
const FONT = "'Liberation Serif','Times New Roman',serif";
const colLeft = [332, 1517, 2699];
const rowTop = [46, 425, 804, 1183];
const PW = 906, PH = 251;
const ML = 110, MR = 20, MT = 20, MB = 100;
const XMAX = 21.6;

const panels = [
  [[a1Hi,a1Lo,a1Spk,a1Minor],[a2Hi,a2Lo,a2Spk,a2Minor],[a3Hi,a3Lo,a3Spk,a3Minor],[a4Hi,a4Lo,a4Spk,a4Minor]],
  [[b1Hi,b1Lo,b1Spk,b1Minor],[b2Hi,b2Lo,b2Spk,b2Minor],[b3Hi,b3Lo,b3Spk,b3Minor],[b4Hi,b4Lo,b4Spk,b4Minor]],
  [[c1Hi,c1Lo,c1Spk,c1Minor],[c2Hi,c2Lo,c2Spk,c2Minor],[c3Hi,c3Lo,c3Spk,c3Minor],[c4Hi,c4Lo,c4Spk,c4Minor]]
];

const fmt = d => d < 0 ? "\u2212" + (-d) : String(d);

function panel(hi, lo, spk, minor, yTicks) {
  const domain = [yTicks[0], yTicks[yTicks.length - 1]];
  const mean = (domain[0] + domain[1]) / 2;
  const body = km.map((x, i) => ({x, hi: hi[i], lo: lo[i]}));
  const spikes = spk.concat(minor).map(([x, y]) => ({x, y1: mean, y2: y}));
  const inner = yTicks.slice(1, -1);
  const innerX = xTicks.slice(1);
  const tly = 11 / PH * (domain[1] - domain[0]);
  const tlx = 11 / PW * XMAX;
  const gridStyle = {stroke: "#3c3c3c", strokeOpacity: 0.75, strokeWidth: 1.3, strokeDasharray: "1.6,2.6"};
  const tickStyle = {stroke: AX, strokeWidth: 3};
  return Plot.plot({
    width: PW + ML + MR, height: PH + MT + MB,
    marginLeft: ML, marginRight: MR, marginTop: MT, marginBottom: MB,
    x: {domain: [0, XMAX], label: null},
    y: {domain, label: null},
    style: {fontFamily: FONT, background: "transparent", overflow: "visible"},
    marks: [
      Plot.ruleX(innerX, {...gridStyle}),
      Plot.ruleY(inner, {...gridStyle}),
      Plot.areaY(body, {x: "x", y1: "lo", y2: "hi", fill: BLUE, clip: true}),
      Plot.ruleX(spikes, {x: "x", y1: "y1", y2: "y2", stroke: BLUE, strokeWidth: 3, clip: true}),
      Plot.ruleY([mean], {stroke: "#1e1e1e", strokeWidth: 2}),
      Plot.ruleX(innerX, {y1: domain[0], y2: domain[0] + tly, ...tickStyle}),
      Plot.ruleX(innerX, {y1: domain[1], y2: domain[1] - tly, ...tickStyle}),
      Plot.ruleY(inner, {x1: 0, x2: tlx, ...tickStyle}),
      Plot.ruleY(inner, {x1: XMAX, x2: XMAX - tlx, ...tickStyle}),
      Plot.axisX(xTicks, {tickSize: 0, tickPadding: 30, fontSize: 56, color: TXT, label: null, tickFormat: fmt}),
      Plot.axisY(yTicks, {tickSize: 0, tickPadding: 22, fontSize: 56, color: TXT, label: null, tickFormat: fmt}),
      Plot.frame({stroke: AX, strokeWidth: 3})
    ]
  });
}

const fig = document.getElementById("fig");
panels.forEach((col, c) => {
  col.forEach(([hi, lo, spk, minor], r) => {
    const svg = panel(hi, lo, spk, minor, c === 2 ? yTicksC : yTicksAB);
    svg.style.position = "absolute";
    svg.style.left = (colLeft[c] - ML) + "px";
    svg.style.top = (rowTop[r] - MT) + "px";
    fig.appendChild(svg);
  });
});

// ---------------- text labels ----------------
const lab = d3.select(fig).append("svg")
  .attr("width", 3627).attr("height", 1674)
  .style("left", "0px").style("top", "0px")
  .style("font-family", FONT);

rowNames.forEach((n, r) => {
  const t = lab.append("text").attr("x", 20).attr("y", rowTop[r] + 126)
    .attr("font-size", 62).attr("fill", "#000");
  t.append("tspan").attr("font-style", "italic").attr("font-weight", "bold").text("i");
  t.append("tspan").text("=" + n);
});

const xTitleX = [763, 1950, 3150];
const capX = [756, 1938, 3132];
colLeft.forEach((L, c) => {
  lab.append("text")
    .attr("transform", `translate(${L - 114},745) rotate(-90)`)
    .attr("text-anchor", "middle").attr("font-size", 65).attr("fill", "#000")
    .text(yTitle);
  lab.append("text").attr("x", xTitleX[c]).attr("y", 1568)
    .attr("text-anchor", "middle").attr("font-size", 64).attr("fill", "#000")
    .text(xTitle);
  lab.append("text").attr("x", capX[c]).attr("y", 1650)
    .attr("text-anchor", "middle").attr("font-size", 61).attr("fill", "#000")
    .text(columnNames[c]);
});
</script>
</body></html>
